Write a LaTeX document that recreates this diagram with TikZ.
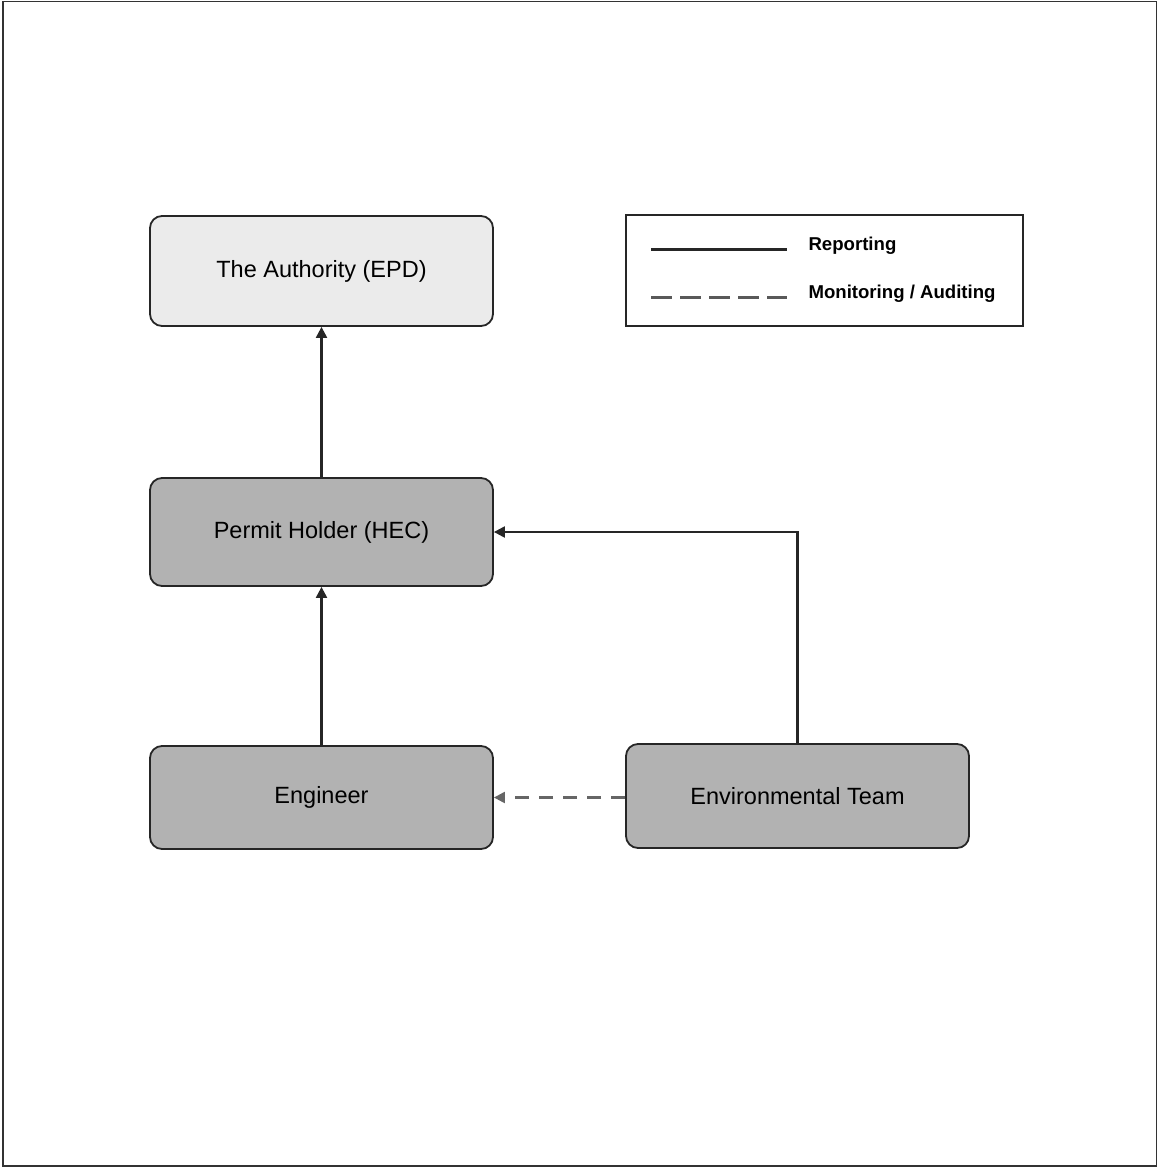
\documentclass[tikz,border=0pt]{standalone}
\usepackage{fontspec}
\setmainfont{Liberation Sans}
\usetikzlibrary{arrows.meta}

\begin{document}
\begin{tikzpicture}[x=1pt, y=-1pt,
    box/.style={draw=black!85, line width=1.8pt, rounded corners=12pt,
        minimum width=343pt, font=\fontsize{23.5}{28}\selectfont},
    report/.style={line width=2.2pt, black!85, -{Triangle[length=11pt,width=11pt]}},
    monitor/.style={line width=2.2pt, black!60, dash pattern=on 14pt off 10pt,
        -{Triangle[length=11pt,width=11pt]}},
    legtext/.style={anchor=west, font=\fontsize{18.6}{22}\selectfont\bfseries}]
    % Page and frame
    \useasboundingbox (0,0) rectangle (1158,1169);
    \draw[black!80, line width=1.8pt] (3,1.5) rectangle (1156.5,1166);

    % Boxes
    \node[box, fill=black!8, minimum height=110pt] (epd) at (321.5,271) {The Authority (EPD)};
    \node[box, fill=black!30, minimum height=108pt] (hec) at (321.5,532) {Permit Holder (HEC)};
    \node[box, fill=black!30, minimum height=103pt] (eng) at (321.5,797.5) {Engineer};
    \node[box, fill=black!30, minimum height=104pt] (env) at (797.5,796) {Environmental Team};

    % Reporting lines
    \draw[report] (hec) -- (epd);
    \draw[report] (eng) -- (hec);
    \draw[report] (env.north) |- (hec.east);
    % Monitoring / auditing
    \draw[monitor] (env.west |- eng.east) -- (eng.east);

    % Legend
    \node[draw=black!85, line width=1.8pt, minimum width=397pt, minimum height=111pt] (legend) at (824.5,270.5) {};
    \coordinate (solidA) at (651,249);
    \coordinate (solidB) at (787,249);
    \coordinate (dashA) at (651,297);
    \coordinate (dashB) at (787,297);
    \draw[line width=3pt, black!85] (solidA) -- (solidB);
    \draw[line width=3pt, black!65, dash pattern=on 21pt off 8pt] (dashA) -- (dashB);
    \node[legtext] (legrep) at (805,246) {Reporting};
    \node[legtext] (legmon) at (805,294) {Monitoring / Auditing};
\end{tikzpicture}
\end{document}
